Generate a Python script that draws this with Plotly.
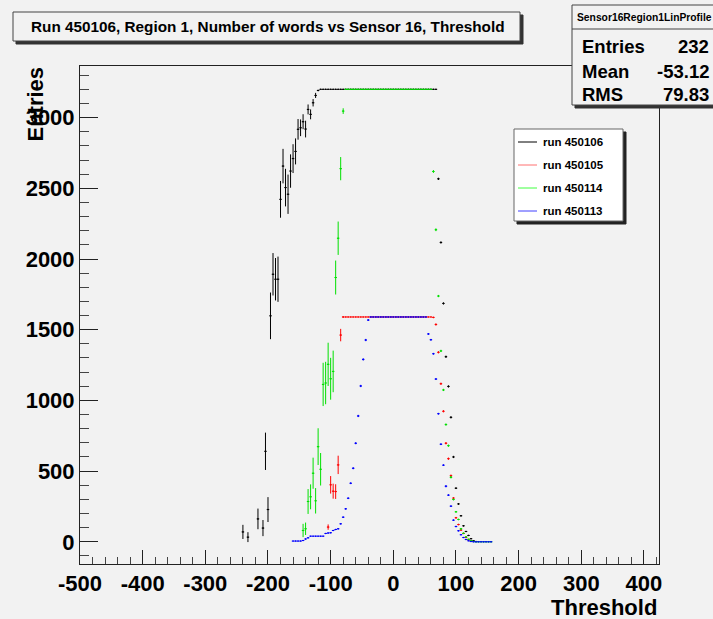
import plotly.graph_objects as go

# ---------------- data ----------------
black_x = [-240, -232, -216, -208, -204, -200, -196, -192, -188, -184, -180, -176, -172, -168, -164,
           -160, -156, -152, -148, -144, -140, -136, -132, -128, -124, -120,
           -116, -112, -108, -104, -100, -96, -92, -88, -84, -80, -76, -72, -68, -64, -60, -56,
           -52, -48, -44, -40, -36, -32, -28, -24, -20, -16, -12, -8, -4, 0, 4, 8, 12, 16, 20,
           24, 28, 32, 36, 40, 44, 48, 52, 56, 60, 64, 68,
           72, 76, 80, 84, 88, 92, 96, 100, 104, 108, 112, 116, 120, 124, 128, 132]
black_y = [70, 33, 162, 97, 640, 228, 1598, 1892, 1857, 1857, 2422, 2657, 2505, 2458, 2622,
           2710, 2761, 2917, 2928, 2971, 2919, 3058, 3023, 3105, 3157, 3192,
           3200, 3200, 3200, 3200, 3200, 3200, 3200, 3200, 3200, 3200, 3200, 3200, 3200, 3200, 3200, 3200,
           3200, 3200, 3200, 3200, 3200, 3200, 3200, 3200, 3200, 3200, 3200, 3200, 3200, 3200, 3200, 3200,
           3200, 3200, 3200, 3200, 3200, 3200, 3200, 3200, 3200, 3200, 3200, 3200, 3200, 3200, 3200,
           2567, 2117, 1686, 1309, 1099, 880, 600, 379, 268, 184, 113, 73, 45, 22, 8, 2]
black_err = [50, 35, 73, 57, 132, 88, 165, 150, 150, 160, 130, 122, 133, 139, 118,
             102, 92, 73, 59, 53, 59, 35, 35, 26, 18, 5,
             0, 0, 0, 0, 0, 0, 0, 0, 0, 0, 0, 0, 0, 0, 0, 0,
             0, 0, 0, 0, 0, 0, 0, 0, 0, 0, 0, 0, 0, 0, 0, 0,
             0, 0, 0, 0, 0, 0, 0, 0, 0, 0, 0, 0, 0, 0, 0,
             8, 8, 8, 8, 8, 8, 8, 6, 6, 5, 5, 4, 4, 3, 2, 1]

red_x = [-104, -100, -96, -92, -88, -84,
         -80, -76, -72, -68, -64, -60, -56, -52, -48, -44, -40, -36, -32, -28, -24, -20, -16, -12,
         -8, -4, 0, 4, 8, 12, 16, 20, 24, 28, 32, 36, 40, 44, 48, 52, 56, 60,
         64, 68, 72, 76, 80, 84, 88, 92, 96, 100, 104, 108, 112, 116, 120, 124]
red_y = [104, 403, 358, 355, 544, 1462,
         1590, 1590, 1590, 1590, 1590, 1590, 1590, 1590, 1590, 1590, 1590, 1590, 1590, 1590, 1590, 1590, 1590, 1590,
         1590, 1590, 1590, 1590, 1590, 1590, 1590, 1590, 1590, 1590, 1590, 1590, 1590, 1590, 1590, 1590, 1590, 1590,
         1587, 1537, 1340, 1118, 923, 697, 588, 468, 309, 170, 122, 83, 59, 30, 14, 5]
red_err = [19, 62, 53, 52, 65, 44,
           5, 0, 0, 0, 0, 0, 0, 0, 0, 0, 0, 0, 0, 0, 0, 0, 0, 0,
           0, 0, 0, 0, 0, 0, 0, 0, 0, 0, 0, 0, 0, 0, 0, 0, 0, 0,
           5, 8, 8, 8, 8, 8, 8, 8, 6, 6, 5, 5, 4, 3, 2, 1]

green_x = [-144, -140, -136, -132, -128, -124, -120, -116, -112, -108, -104, -100, -96, -92, -88, -84, -80,
           -76, -72, -68, -64, -60, -56, -52, -48, -44, -40, -36, -32, -28, -24, -20, -16, -12,
           -8, -4, 0, 4, 8, 12, 16, 20, 24, 28, 32, 36, 40, 44, 48, 52, 56, 60,
           64, 68, 72, 76, 80, 84, 88, 92, 96, 100, 104, 108, 112, 116, 120, 124, 128,
           132, 136, 140, 144, 148, 152, 156]
green_y = [80, 92, 285, 318, 485, 290, 673, 513, 1113, 1123, 1255, 1153, 1205, 1869, 2147, 2639, 3046,
           3200, 3200, 3200, 3200, 3200, 3200, 3200, 3200, 3200, 3200, 3200, 3200, 3200, 3200, 3200, 3200, 3200,
           3200, 3200, 3200, 3200, 3200, 3200, 3200, 3200, 3200, 3200, 3200, 3200, 3200, 3200, 3200, 3200, 3200, 3200,
           2619, 2207, 1738, 1350, 1074, 829, 680, 456, 299, 212, 158, 92, 60, 35, 18, 8, 3,
           0, 0, 0, 0, 0, 0, 0]
green_err = [47, 44, 88, 88, 110, 90, 130, 115, 153, 150, 153, 148, 147, 120, 118, 82, 20,
             0, 0, 0, 0, 0, 0, 0, 0, 0, 0, 0, 0, 0, 0, 0, 0, 0,
             0, 0, 0, 0, 0, 0, 0, 0, 0, 0, 0, 0, 0, 0, 0, 0, 0, 0,
             10, 10, 8, 8, 8, 8, 8, 8, 6, 6, 5, 5, 4, 3, 2, 1, 1,
             0, 0, 0, 0, 0, 0, 0]

blue_x = [-160, -156, -152, -148, -144, -140, -136, -132, -128, -124, -120, -116, -112, -108, -104,
          -100, -96, -92, -88, -84, -80, -76, -72, -68, -64, -60, -56, -52, -48, -44, -40,
          -36, -32, -28, -24, -20, -16, -12, -8, -4, 0, 4, 8, 12, 16, 20, 24, 28, 32, 36, 40, 44, 48, 52,
          56, 60, 64, 68, 72, 76, 80, 84, 88, 92, 96, 100, 104, 108, 112, 116, 120, 124,
          128, 132, 136, 140, 144, 148, 152, 156]
blue_y = [5, 5, 5, 5, 9, 20, 28, 40, 40, 40, 40, 40, 40, 59, 62,
          64, 80, 87, 92, 127, 174, 233, 308, 414, 520, 697, 890, 1102, 1290, 1427, 1568,
          1590, 1590, 1590, 1590, 1590, 1590, 1590, 1590, 1590, 1590, 1590, 1590, 1590, 1590, 1590, 1590,
          1590, 1590, 1590, 1590, 1590, 1590, 1590,
          1470, 1429, 1330, 1151, 906, 690, 542, 393, 330, 252, 153, 108, 78, 50, 30, 16, 7, 2,
          0, 0, 0, 0, 0, 0, 0, 0]
blue_err = [0, 0, 0, 0, 2, 3, 3, 0, 0, 0, 0, 0, 0, 3, 3,
            3, 3, 4, 4, 4, 5, 5, 6, 6, 7, 7, 8, 8, 8, 8, 6,
            0, 0, 0, 0, 0, 0, 0, 0, 0, 0, 0, 0, 0, 0, 0, 0,
            0, 0, 0, 0, 0, 0, 0,
            6, 6, 6, 6, 6, 6, 6, 8, 6, 6, 5, 5, 4, 3, 2, 1, 1, 1,
            0, 0, 0, 0, 0, 0, 0, 0]

run_names = ["run 450106", "run 450105", "run 450114", "run 450113"]
run_colors = ["#000000", "#ff0000", "#00e000", "#0000ff"]
legend_line_colors = ["#000000", "#ff7070", "#40ff40", "#4040ff"]

x_tick_vals = [-500, -400, -300, -200, -100, 0, 100, 200, 300, 400]
x_tick_text = ["-500", "-400", "-300", "-200", "-100", "0", "100", "200", "300", "400"]
y_tick_vals = [0, 500, 1000, 1500, 2000, 2500, 3000]
y_tick_text = ["0", "500", "1000", "1500", "2000", "2500", "3000"]

title_text = "Run 450106, Region 1, Number of words vs Sensor 16, Threshold"
stats_name = "Sensor16Region1LinProfile"
stats_labels = ["Entries", "Mean", "RMS"]
stats_values = ["232", "-53.12", "79.83"]

x_range = [-500, 424]
y_range = [-157, 3365]

# ---------------- figure ----------------
W, H = 713, 619
L, R, T, B = 80, 659, 66, 564
BG = "#f2f2f2"
FONT = "Liberation Sans"


def px(v):
    return (v - L) / (R - L)


def py(v):
    return (B - v) / (B - T)


fig = go.Figure()
series = [
    (black_x, black_y, black_err, run_colors[0]),
    (red_x, red_y, red_err, run_colors[1]),
    (green_x, green_y, green_err, run_colors[2]),
    (blue_x, blue_y, blue_err, run_colors[3]),
]
for (xs, ys, es, col), nm in zip(series, run_names):
    fig.add_trace(go.Scatter(
        x=xs, y=ys, mode="markers", name=nm,
        marker=dict(size=1.5, color=col),
        error_y=dict(type="data", array=es, visible=True, color=col, thickness=1, width=0),
        error_x=dict(type="constant", value=2, visible=True, color=col, thickness=1, width=0),
        showlegend=False, hoverinfo="skip"))

fig.update_layout(
    width=W, height=H,
    margin=dict(l=L, r=W - R, t=T, b=H - B, pad=0),
    paper_bgcolor=BG, plot_bgcolor=BG,
    showlegend=False,
    font=dict(family=FONT, color="black"),
)
fig.update_xaxes(
    range=x_range, tickmode="array", tickvals=x_tick_vals, ticktext=x_tick_text,
    ticks="inside", ticklen=14, tickwidth=1, tickcolor="#222",
    showline=True, linecolor="#222", linewidth=1, mirror=True, showgrid=False, zeroline=False,
    minor=dict(tick0=0, dtick=20, ticks="inside", ticklen=7, tickcolor="#444", tickwidth=1, showgrid=False),
    tickfont=dict(family=FONT, size=22, weight="bold", color="black"),
)
fig.update_yaxes(
    range=y_range, tickmode="array", tickvals=y_tick_vals, ticktext=y_tick_text,
    ticks="inside", ticklen=18, tickwidth=1, tickcolor="#222",
    showline=True, linecolor="#222", linewidth=1, mirror=True, showgrid=False, zeroline=False,
    minor=dict(tick0=0, dtick=100, ticks="inside", ticklen=9, tickcolor="#444", tickwidth=1, showgrid=False),
    tickfont=dict(family=FONT, size=22, weight="bold", color="black"),
)

shapes = []
annos = []


def rect(x0, y0, x1, y1, fill, line="#333", lw=1):
    shapes.append(dict(type="rect", xref="paper", yref="paper", x0=px(x0), x1=px(x1),
                       y0=py(y1), y1=py(y0), fillcolor=fill,
                       line=dict(color=line, width=lw), layer="above"))


def text(t, x, y, size, xanchor="center", yanchor="middle", angle=0):
    annos.append(dict(text=t, xref="paper", yref="paper", x=px(x), y=py(y), showarrow=False,
                      xanchor=xanchor, yanchor=yanchor, textangle=angle,
                      font=dict(family=FONT, size=size, weight="bold", color="black")))


# title box with shadow
rect(16, 15, 523, 44, "#333333", line="#333333")
rect(13, 12, 520, 41, BG, line="#444")
text(title_text, 267, 26.5, 15.3)

# stats box
rect(575, 8, 718, 108, "#333333", line="#333333")
rect(572, 5, 715, 105, BG, line="#444")
shapes.append(dict(type="line", xref="paper", yref="paper", x0=px(572), x1=px(715),
                   y0=py(29), y1=py(29), line=dict(color="#444", width=1), layer="above"))
text(stats_name, 575, 18, 10.3, xanchor="left")
for i, (lab, val) in enumerate(zip(stats_labels, stats_values)):
    yy = 47 + 24 * i
    text(lab, 580, yy, 18.5, xanchor="left")
    text(val, 711, yy, 18.5, xanchor="right")

# legend box
rect(517, 132, 626, 224, "#222222", line="#222222")
rect(514, 129, 623, 221, "white", line="#666")
for i, (nm, col) in enumerate(zip(run_names, legend_line_colors)):
    yy = 142 + 23 * i
    shapes.append(dict(type="line", xref="paper", yref="paper", x0=px(518), x1=px(537),
                       y0=py(yy), y1=py(yy), line=dict(color=col, width=1), layer="above"))
    text(nm, 541, yy, 11.5, xanchor="left")

# axis titles
text("Entries", 35, 65, 22, xanchor="center", yanchor="top", angle=-90)
text("Threshold", 659, 607, 22, xanchor="right")

fig.update_layout(shapes=shapes, annotations=annos)
fig.write_html("out.html")
